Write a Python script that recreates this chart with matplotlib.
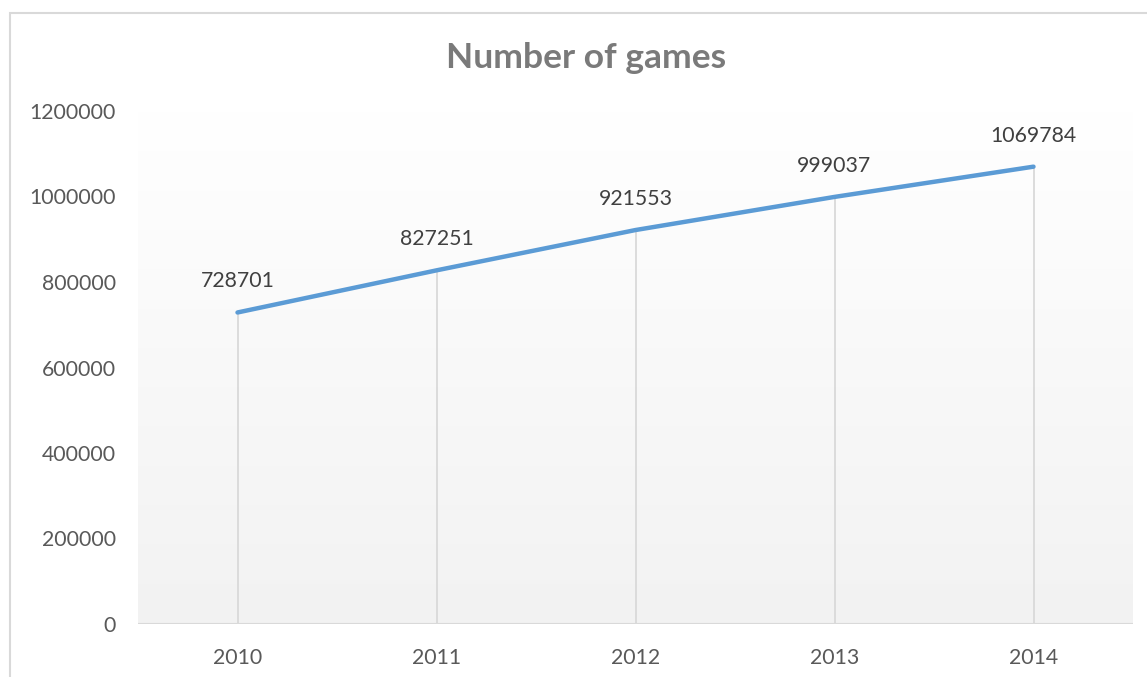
import matplotlib
matplotlib.use("Agg")
import matplotlib.pyplot as plt
import numpy as np
from matplotlib.patches import Rectangle

years = ["2010", "2011", "2012", "2013", "2014"]
games = [728701, 827251, 921553, 999037, 1069784]
yticks = [0, 200000, 400000, 600000, 800000, 1000000, 1200000]

plt.rcParams['font.family'] = ['Lato', 'DejaVu Sans']

W, H = 1147, 677
fig = plt.figure(figsize=(W / 100, H / 100), dpi=100)
fig.patch.set_facecolor("white")

# chart border
fig.add_artist(Rectangle((10 / W, -0.2), 1.2, (H - 13) / H + 0.2, transform=fig.transFigure,
                         fill=False, edgecolor="#d9d9d9", linewidth=1.5))

ax = fig.add_axes([138 / W, (H - 624) / H, (1133 - 138) / W, (624 - 111) / H])
ax.set_facecolor("none")
x = np.arange(len(years))
ax.set_xlim(-0.5, len(years) - 0.5)
ax.set_ylim(0, 1200000)

# gradient background
grad = np.linspace(1.0, 0.949, 256).reshape(-1, 1)
ax.imshow(np.dstack([grad, grad, grad]), extent=[-0.5, len(years) - 0.5, 0, 1200000],
          aspect="auto", zorder=0, origin="upper")

# drop lines
ax.vlines(x, 0, games, color="#d9d9d9", linewidth=1.3, zorder=1)
ax.axhline(0, color="#d9d9d9", linewidth=1.5, zorder=1)

ax.plot(x, games, color="#5b9bd5", linewidth=3.2, solid_capstyle="round", zorder=3)

for xi, v in zip(x, games):
    ax.annotate(str(v), (xi, v), xytext=(0, 31), textcoords="offset pixels",
                ha="center", va="center", fontsize=15.3, color="#404040")

for s in ax.spines.values():
    s.set_visible(False)
ax.set_yticks(yticks)
ax.set_yticklabels([str(t) for t in yticks])
ax.set_xticks(x)
ax.set_xticklabels(years)
ax.tick_params(axis="both", length=0, labelsize=15.3, labelcolor="#595959")
ax.tick_params(axis="y", pad=16)
ax.tick_params(axis="x", pad=17)

fig.text(586 / W, (H - 58) / H, "Number of games", ha="center", va="center",
         fontsize=25.5, fontweight="bold", color="#7a7a7a")

fig.savefig("out.png", dpi=100)
